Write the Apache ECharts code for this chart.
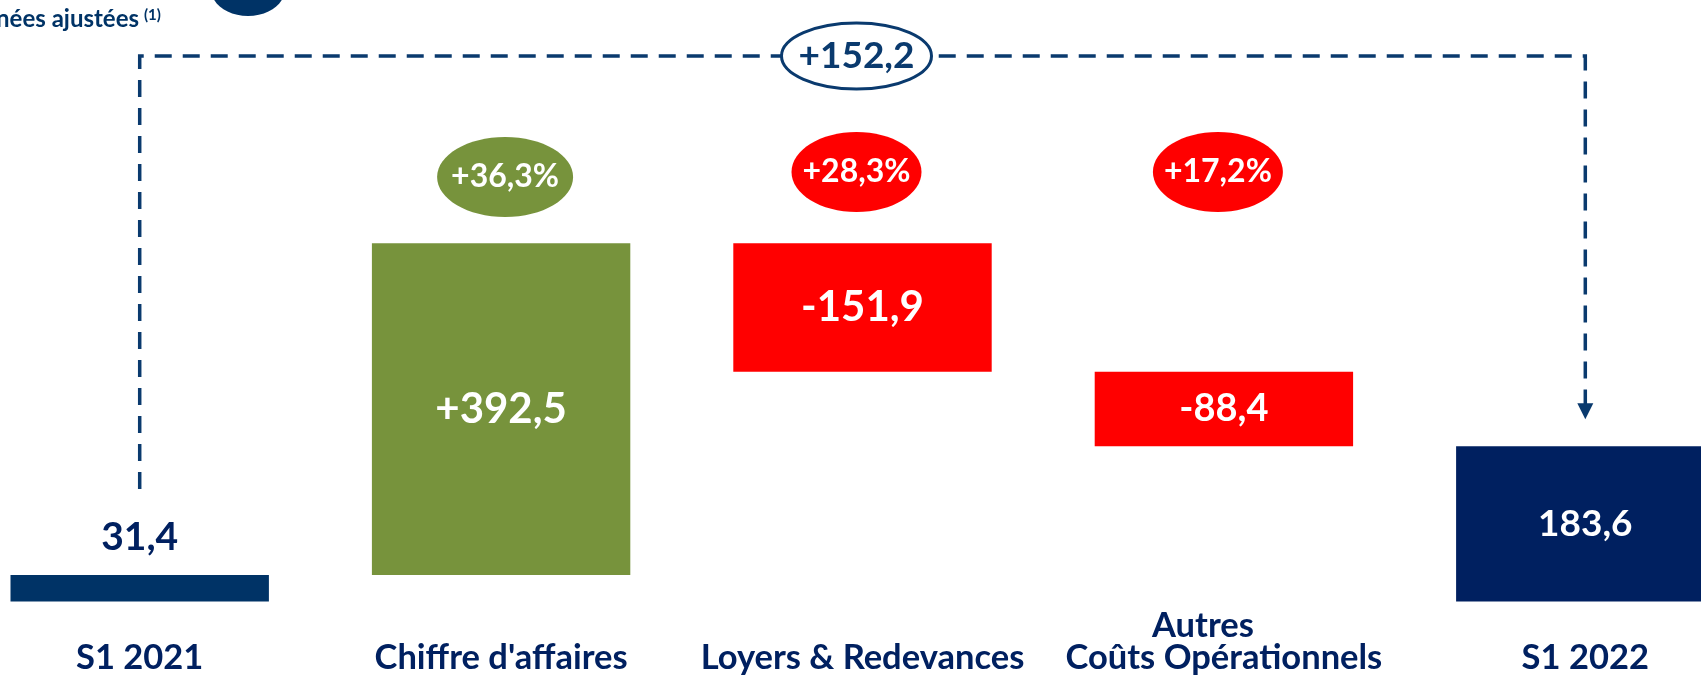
<!DOCTYPE html>
<html><head><meta charset="utf-8">
<script src="https://cdn.jsdelivr.net/npm/echarts@6/dist/echarts.min.js"></script>
<style>html,body{margin:0;padding:0;background:#fff;overflow:hidden;width:1701px;height:676px}#c{width:1807px;height:676px;margin-left:-41px}</style>
</head><body><div id="c"></div>
<script>
const categories = ['S1 2021', "Chiffre d'affaires", 'Loyers & Redevances', 'Autres     \nCoûts Opérationnels', 'S1 2022'];
const steps = [31.4, 392.5, -151.9, -88.4, 183.6];
const isTotal = [true, false, false, false, true];
const valueLabels = ['31,4', '+392,5', '-151,9', '-88,4', '183,6'];
const pctLabels = ['', '+36,3%', '+28,3%', '+17,2%', ''];
const totalVariation = '+152,2';

const NAVY = '#002060', DASH = '#0A3A6E';
const barColors = ['#003366', '#77933C', '#FF0000', '#FF0000', '#002060'];
const FONT = 'Lato';
const OFF = 41; // canvas starts 41px left of the page

const base = [], height = [];
let run = 0;
steps.forEach((v, i) => {
  if (isTotal[i]) { base.push(0); height.push(v); run = v; }
  else { const nxt = run + v; base.push(Math.min(run, nxt)); height.push(Math.abs(v)); run = nxt; }
});
const labelSizes = [39, 42, 42, 38, 37];

const chart = echarts.init(document.getElementById('c'));
chart.setOption({
  animation: false,
  grid: { left: 0, right: 0, top: 179, bottom: 74.5 },
  xAxis: {
    type: 'category', data: categories,
    axisLine: { show: false }, axisTick: { show: false },
    axisLabel: { interval: 0, color: NAVY, fontFamily: FONT, fontWeight: 'bold', fontSize: 34.5,
      lineHeight: 32, verticalAlign: 'bottom', margin: 72 }
  },
  yAxis: { type: 'value', min: 0, max: 500, show: false, splitLine: { show: false } },
  series: [
    { type: 'bar', stack: 'w', data: base, itemStyle: { color: 'transparent' }, barWidth: '71.5%', silent: true },
    { type: 'bar', stack: 'w', barWidth: '71.5%',
      data: height.map((h, i) => ({
        value: h,
        itemStyle: { color: barColors[i] },
        label: i === 0
          ? { show: true, position: 'top', distance: 18, color: NAVY, fontSize: labelSizes[i], fontWeight: 'bold', fontFamily: FONT, formatter: valueLabels[i] }
          : { show: true, position: 'inside', color: '#fff', fontSize: labelSizes[i], fontWeight: 'bold', fontFamily: FONT, formatter: valueLabels[i] }
      }))
    }
  ]
});

const px = i => chart.convertToPixel({ xAxisIndex: 0 }, i);
const py = v => chart.convertToPixel({ yAxisIndex: 0 }, v);
const x0 = px(0), x4 = px(4);
const topY = 56;
const leftEnd = py(steps[0]) - 86;
const arrowTip = py(steps[4]) - 27;
const g = [];
g.push({ type: 'polyline', z: 10, shape: { points: [[x0, leftEnd], [x0, topY], [x4, topY], [x4, arrowTip - 15]] },
  style: { stroke: DASH, lineWidth: 3.5, lineDash: [17, 11], fill: null } });
g.push({ type: 'polygon', z: 10, shape: { points: [[x4 - 8, arrowTip - 16], [x4 + 8, arrowTip - 16], [x4, arrowTip]] }, style: { fill: DASH } });
g.push({ type: 'ellipse', z: 20, shape: { cx: (x0 + x4) / 2 - 6, cy: topY, rx: 75, ry: 33 }, style: { fill: '#fff', stroke: DASH, lineWidth: 3 } });
g.push({ type: 'text', z: 21, x: (x0 + x4) / 2 - 6, y: topY, style: { text: totalVariation, fill: DASH, font: 'bold 37px ' + FONT, textAlign: 'center', textVerticalAlign: 'middle' } });
const pctColor = i => steps[i] > 0 ? '#77933C' : '#FF0000';
for (let i = 0; i < categories.length; i++) {
  if (!pctLabels[i]) continue;
  const cx = px(i) + (i === 1 ? 4 : -6), cy = i === 1 ? 177 : 172;
  g.push({ type: 'ellipse', z: 20, shape: { cx: cx, cy: cy, rx: i === 1 ? 68 : 65, ry: 40 }, style: { fill: pctColor(i) } });
  g.push({ type: 'text', z: 21, x: cx, y: cy, style: { text: pctLabels[i], fill: '#fff', font: 'bold 32px ' + FONT, textAlign: 'center', textVerticalAlign: 'middle' } });
}
// cropped legend / subtitle at the top
g.push({ type: 'text', z: 21, x: OFF + 139, y: 31, style: { text: 'Données ajustées', fill: '#003366', font: 'bold 24px ' + FONT, textAlign: 'right', textVerticalAlign: 'bottom' } });
g.push({ type: 'text', z: 21, x: OFF + 144, y: 15, style: { text: '(1)', fill: '#003366', font: 'bold 15px ' + FONT, textAlign: 'left', textVerticalAlign: 'middle' } });
g.push({ type: 'ellipse', z: 20, shape: { cx: OFF + 248, cy: -11, rx: 37, ry: 27 }, style: { fill: '#003366' } });
g.push({ type: 'text', z: 21, x: OFF + 248, y: -9, style: { text: 'xxx', fill: '#fff', font: 'bold 22px ' + FONT, textAlign: 'center', textVerticalAlign: 'middle' } });
g.push({ type: 'text', z: 21, x: OFF + 287, y: -9, style: { text: 'Variation', fill: '#003366', font: '22px ' + FONT, textAlign: 'left', textVerticalAlign: 'middle' } });
chart.setOption({ graphic: g });
</script>
</body></html>
